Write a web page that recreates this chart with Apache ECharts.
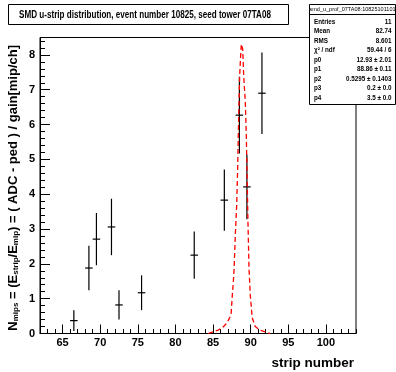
<!DOCTYPE html>
<html><head><meta charset="utf-8">
<script src="https://cdn.jsdelivr.net/npm/echarts@6.0.0/dist/echarts.min.js"></script>
<style>html,body{margin:0;padding:0;background:#fff}#c{width:396px;height:372px}</style>
</head><body><div id="c"></div>
<script>
// ---- data ----
const strips   = [66.5, 68.5, 69.5, 71.5, 72.5, 75.5, 82.5, 86.5, 88.5, 89.5, 91.5];
const nMips    = [0.37, 1.88, 2.71, 3.06, 0.82, 1.17, 2.25, 3.83, 6.27, 4.21, 6.90];
const nMipsErr = [0.30, 0.64, 0.75, 0.81, 0.42, 0.50, 0.68, 0.88, 1.10, 0.93, 1.17];
const binHalfWidth = 0.5;

const fitX = [84.35, 84.8, 85.3, 85.7, 86.3, 86.8, 87.2, 87.4, 87.56, 87.7, 87.8, 87.96, 88.14, 88.27, 88.4, 88.54, 88.67, 88.76,
              88.94, 89.07, 89.29, 89.42, 89.55, 89.64, 89.78, 89.95, 90.2, 90.6, 91.2, 92.0, 92.6];
const fitY = [0.00, 0.03, 0.07, 0.10, 0.18, 0.29, 0.45, 0.56, 1.10, 1.50, 1.87, 2.82, 3.68, 4.73, 6.17, 7.41, 7.98, 8.31,
              8.17, 7.41, 6.64, 5.69, 4.26, 3.20, 1.87, 1.10, 0.46, 0.20, 0.10, 0.04, 0.00];

const xTickLabels = [65, 70, 75, 80, 85, 90, 95, 100];
const yTickLabels = [0, 1, 2, 3, 4, 5, 6, 7, 8];

const titleText = 'SMD u-strip distribution, event number 10825, seed tower 07TA08';
const statsHeader = 'smd_u_prof_07TA08:10825101101';
const statNames  = ['Entries', 'Mean', 'RMS', 'χ² / ndf', 'p0', 'p1', 'p2', 'p3', 'p4'];
const statValues = ['11', '82.74', '8.601', '59.44 / 6', '12.93 ± 2.01', '88.86 ± 0.11', '0.5295 ± 0.1403', '0.2 ± 0.0', '3.5 ± 0.0'];

// ---- chart ----
const FONT = '"Liberation Sans", Arial, Helvetica, sans-serif';
const chart = echarts.init(document.getElementById('c'), null, {renderer: 'canvas'});

const G = {left: 40, top: 37.5, width: 316, height: 296};
const xMin = 62, xMax = 104, yMin = 0, yMax = 8.5;

const errData = strips.map((x, i) => [x, nMips[i], nMipsErr[i]]);
const fitData = fitX.map((x, i) => [x, fitY[i]]);

const labelStyle = {color: '#000', fontFamily: FONT, fontWeight: 'bold', fontSize: 11};

const graphics = [];
// title box
graphics.push({type: 'rect', z: 100, shape: {x: 8.5, y: 4.5, width: 280, height: 20},
  style: {fill: '#fff', stroke: '#000', lineWidth: 1}});
graphics.push({type: 'text', z: 101, x: 145, y: 15, scaleX: 0.81,
  style: {text: titleText, fill: '#000', font: 'bold 10px ' + FONT, align: 'center', verticalAlign: 'middle'}});
// stats box
graphics.push({type: 'rect', z: 100, shape: {x: 309.5, y: 4.5, width: 86, height: 100},
  style: {fill: '#fff', stroke: '#000', lineWidth: 1}});
graphics.push({type: 'line', z: 101, shape: {x1: 309.5, y1: 14.5, x2: 395.5, y2: 14.5},
  style: {stroke: '#000', lineWidth: 1}});
graphics.push({type: 'text', z: 101, x: 352.5, y: 9.8, scaleX: 0.92,
  style: {text: statsHeader, fill: '#000', font: '6px ' + FONT, align: 'center', verticalAlign: 'middle'}});
statNames.forEach((n, i) => {
  const y = 21.8 + i * 9.5;
  graphics.push({type: 'text', z: 101, x: 314, y: y,
    style: {text: n, fill: '#000', font: 'bold 6.3px ' + FONT, align: 'left', verticalAlign: 'middle'}});
  graphics.push({type: 'text', z: 101, x: 391.5, y: y,
    style: {text: statValues[i], fill: '#000', font: 'bold 6.3px ' + FONT, align: 'right', verticalAlign: 'middle'}});
});
// x axis title
graphics.push({type: 'text', z: 101, x: 354, y: 363,
  style: {text: 'strip number', fill: '#000', font: 'bold 13.5px ' + FONT, align: 'right', verticalAlign: 'middle'}});
// y axis title (rotated, with subscripts)
graphics.push({type: 'text', z: 101, x: 13, y: 45, rotation: Math.PI / 2,
  style: {
    text: '{b|N}{s|mips}{b| = (E}{s|strip}{b|/E}{s|mip}{b|) = ( ADC - ped ) / gain[mip/ch]}',
    align: 'right', verticalAlign: 'middle', fill: '#000',
    rich: {
      b: {fontFamily: FONT, fontWeight: 'bold', fontSize: 13, lineHeight: 13, padding: [0, 0, 4, 0], verticalAlign: 'top', fill: '#000'},
      s: {fontFamily: FONT, fontWeight: 'bold', fontSize: 8, lineHeight: 8, verticalAlign: 'bottom', fill: '#000'}
    }
  }});

chart.setOption({
  animation: false,
  backgroundColor: '#fff',
  grid: {left: G.left, top: G.top, width: G.width, height: G.height, show: true,
         borderColor: '#000', borderWidth: 1, backgroundColor: 'transparent', containLabel: false},
  xAxis: [
    {type: 'value', min: xMin, max: xMax, position: 'bottom',
     axisLine: {show: true, lineStyle: {color: '#000', width: 1}},
     splitLine: {show: false},
     axisTick: {show: true, inside: true, length: 9, lineStyle: {color: '#000', width: 1}, customValues: xTickLabels},
     axisLabel: Object.assign({margin: 4, customValues: xTickLabels}, labelStyle)},
    {type: 'value', min: xMin, max: xMax, interval: 1, position: 'bottom', offset: 0,
     axisLine: {show: false}, splitLine: {show: false}, axisLabel: {show: false},
     axisTick: {show: true, inside: true, length: 4.5, lineStyle: {color: '#000', width: 1}}}
  ],
  yAxis: [
    {type: 'value', min: yMin, max: yMax, position: 'left',
     axisLine: {show: true, lineStyle: {color: '#000', width: 1}},
     splitLine: {show: false},
     axisTick: {show: true, inside: true, length: 10, lineStyle: {color: '#000', width: 1}, customValues: yTickLabels},
     axisLabel: Object.assign({margin: 5, customValues: yTickLabels}, labelStyle)},
    {type: 'value', min: yMin, max: yMax, interval: 0.2, position: 'left', offset: 0,
     axisLine: {show: false}, splitLine: {show: false}, axisLabel: {show: false},
     axisTick: {show: true, inside: true, length: 5, lineStyle: {color: '#000', width: 1}}}
  ],
  series: [
    {type: 'custom', xAxisIndex: 0, yAxisIndex: 0, z: 3, data: errData,
     renderItem: function (params, api) {
       const x = api.value(0), y = api.value(1), e = api.value(2);
       const top = api.coord([x, y + e]), bot = api.coord([x, y - e]);
       const l = api.coord([x - binHalfWidth, y]), r = api.coord([x + binHalfWidth, y]);
       const st = {stroke: '#000', lineWidth: 1.2};
       return {type: 'group', children: [
         {type: 'line', shape: {x1: top[0], y1: top[1], x2: bot[0], y2: bot[1]}, style: st},
         {type: 'line', shape: {x1: l[0], y1: l[1], x2: r[0], y2: r[1]}, style: st}
       ]};
     }},
    {type: 'line', xAxisIndex: 0, yAxisIndex: 0, z: 4, data: fitData, showSymbol: false, symbol: 'none',
     lineStyle: {color: '#ff0000', width: 1.3, type: [5, 3]}}
  ],
  graphic: graphics
});
</script></body></html>
